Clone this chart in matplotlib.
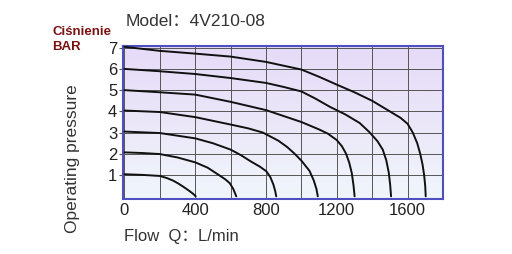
import matplotlib
matplotlib.use("Agg")
import matplotlib.pyplot as plt
import numpy as np
from matplotlib.colors import LinearSegmentedColormap

plt.rcParams['font.family'] = ['Liberation Sans', 'Noto Sans CJK SC', 'DejaVu Sans']

# Flow (L/min) and pressure (bar) readings for each pressure curve
q1 = [0, 100, 200, 240, 275, 305, 331, 352, 369, 388, 403]
p1 = [1.04, 1.01, 0.96, 0.86, 0.74, 0.6, 0.46, 0.34, 0.24, 0.12, 0.0]
q2 = [0, 100, 200, 300, 400, 470, 538, 570, 595, 615, 632]
p2 = [2.07, 2.04, 1.99, 1.83, 1.6, 1.35, 0.98, 0.8, 0.62, 0.35, 0.0]
q3 = [0, 200, 400, 500, 600, 660, 715, 765, 802, 825, 842, 852, 858]
p3 = [3.05, 2.98, 2.73, 2.5, 2.2, 1.93, 1.64, 1.4, 1.18, 0.9, 0.55, 0.25, 0.0]
q4 = [0, 200, 400, 600, 700, 783, 870, 920, 960, 1000, 1046, 1070, 1085, 1093]
p4 = [4.04, 3.97, 3.73, 3.38, 3.2, 3.0, 2.62, 2.32, 2.02, 1.68, 1.2, 0.75, 0.35, 0.0]
q5 = [0, 200, 400, 600, 800, 1000, 1100, 1150, 1200, 1230, 1253, 1270, 1285, 1295, 1301]
p5 = [5.0, 4.9, 4.79, 4.45, 4.06, 3.5, 3.15, 2.95, 2.65, 2.35, 2.0, 1.6, 1.1, 0.5, 0.0]
q6 = [0, 200, 400, 600, 800, 900, 1000, 1080, 1160, 1250, 1330, 1385, 1430, 1460,
      1480, 1494, 1502, 1507]
p6 = [6.0, 5.89, 5.76, 5.57, 5.34, 5.15, 4.94, 4.6, 4.22, 3.85, 3.45, 3.02, 2.6, 2.2,
      1.7, 1.12, 0.55, 0.0]
q7 = [0, 200, 400, 600, 800, 900, 1000, 1100, 1200, 1300, 1400, 1500, 1560, 1600,
      1630, 1655, 1672, 1685, 1694, 1700, 1703]
p7 = [7.04, 6.85, 6.72, 6.58, 6.33, 6.15, 5.97, 5.63, 5.26, 4.9, 4.5, 4.0, 3.7, 3.42,
      3.0, 2.5, 2.0, 1.5, 1.0, 0.5, 0.0]

curves = [(q1, p1), (q2, p2), (q3, p3), (q4, p4), (q5, p5), (q6, p6), (q7, p7)]

x_ticks = [0, 400, 800, 1200, 1600]
x_minor = [200, 600, 1000, 1400]
y_ticks = [1, 2, 3, 4, 5, 6, 7]

fig = plt.figure(figsize=(5.12, 2.54), dpi=100)
ax = fig.add_axes([0.240, 0.217, 0.625, 0.602])

cmap = LinearSegmentedColormap.from_list("bg", ["#f0f6fc", "#ebe7f8", "#e6dbf8"])
grad = np.linspace(0, 1, 256).reshape(-1, 1)
ax.imshow(grad, extent=[0, 1, 0, 1], transform=ax.transAxes, aspect='auto',
          cmap=cmap, origin='lower', zorder=0)

ax.set_xlim(-9, 1800)
ax.set_ylim(-0.12, 7.08)
ax.set_xticks(x_ticks)
ax.set_xticks(x_minor, minor=True)
ax.set_yticks(y_ticks)
ax.set_xticklabels([str(v) for v in x_ticks], fontsize=12, color='#222222')
ax.set_yticklabels([str(v) for v in y_ticks], fontsize=12, color='#222222')
ax.tick_params(axis='x', which='both', length=0, pad=3)
ax.tick_params(axis='y', length=3, width=0.8, color='#555555', pad=1)

ax.grid(True, which='both', color='#555555', linewidth=0.7, zorder=1)
for ln in ax.get_xgridlines() + ax.get_ygridlines():
    ln.set_zorder(1)

for q, p in curves:
    ax.plot(q, p, color='#111111', linewidth=1.4, zorder=3,
            solid_capstyle='round', solid_joinstyle='round')

for s in ax.spines.values():
    s.set_color('#4f4fc0')
    s.set_linewidth(1.5)

fig.text(0.245, 0.915, "Model：4V210-08", fontsize=12.5, color='#333333',
         ha='left', va='center')
fig.text(0.102, 0.875, "Ciśnienie", fontsize=9.5, color='#7b1212',
         fontweight='bold', ha='left', va='center')
fig.text(0.102, 0.815, "BAR", fontsize=9.5, color='#7b1212',
         fontweight='bold', ha='left', va='center')
fig.text(0.141, 0.375, "Operating pressure", fontsize=12.5, color='#333333',
         rotation=90, ha='center', va='center')
fig.text(0.242, 0.068, "Flow  Q：L/min", fontsize=12, color='#333333',
         ha='left', va='center')

fig.savefig("out.png", dpi=100)
